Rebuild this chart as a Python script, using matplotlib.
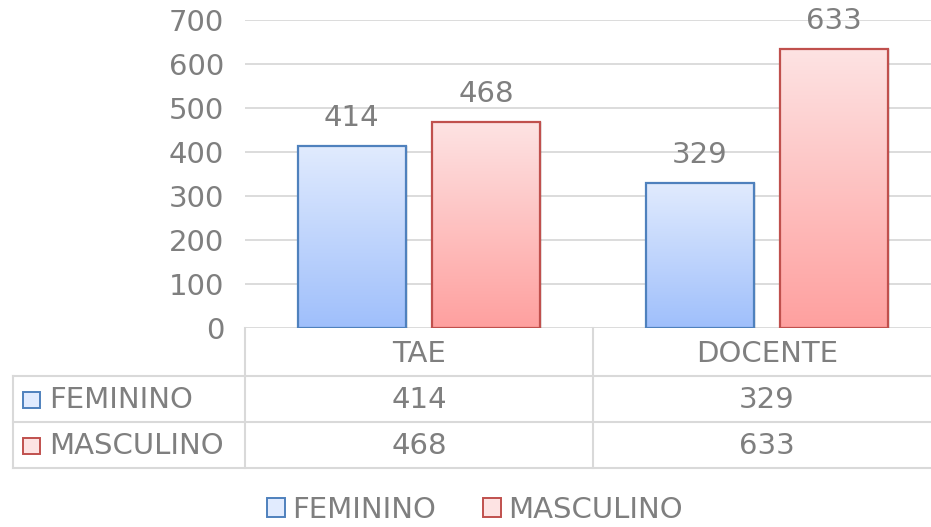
import numpy as np
import matplotlib.pyplot as plt
from matplotlib.colors import LinearSegmentedColormap
from matplotlib.patches import Rectangle
from matplotlib.lines import Line2D

categories = ['TAE', 'DOCENTE']
series = ['FEMININO', 'MASCULINO']
feminino = [414, 329]
masculino = [468, 633]
yticks = [0, 100, 200, 300, 400, 500, 600, 700]

W, H = 931, 527
txt = '#7f7f7f'
grid = '#d9d9d9'
fsize = 21
styles = {
    'FEMININO': dict(top='#e1ebfe', bot='#9fbffb', edge='#4f81bd'),
    'MASCULINO': dict(top='#fde3e3', bot='#ffa09f', edge='#c0504d'),
}

plt.rcParams['font.family'] = ['DejaVu Sans']
fig = plt.figure(figsize=(W / 100, H / 100), dpi=100)


def fx(px):
    return px / W


def fy(py):
    return 1 - py / H


ax = fig.add_axes([fx(245), fy(328), fx(696), 308 / H])
ax.set_xlim(-0.5, 1.5)
ax.set_ylim(0, 700)
ax.set_yticks(yticks)
ax.tick_params(axis='y', length=0, pad=15, labelsize=fsize, labelcolor=txt)
ax.set_xticks([])
for s in ax.spines.values():
    s.set_visible(False)
ax.yaxis.grid(True, color=grid, lw=1.3)
ax.set_axisbelow(True)

width = 0.31
offs = [-0.193, 0.193]
x = np.arange(len(categories))
grad = np.linspace(0, 1, 256).reshape(-1, 1)
for name, vals, off in zip(series, [feminino, masculino], offs):
    st = styles[name]
    cmap = LinearSegmentedColormap.from_list(name, [st['bot'], st['top']])
    for xi, v in zip(x, vals):
        x0 = xi + off - width / 2
        # faint shadow
        ax.add_patch(Rectangle((x0 + 0.006, 0), width, v, facecolor='#000000',
                               alpha=0.08, lw=0, zorder=2))
        ax.imshow(grad, extent=[x0, x0 + width, 0, v], origin='lower',
                  aspect='auto', cmap=cmap, zorder=3)
        ax.add_patch(Rectangle((x0, 0), width, v, facecolor='none',
                               edgecolor=st['edge'], lw=1.6, zorder=4))
        ax.annotate(str(v), (xi + off, v), xytext=(0, 14),
                    textcoords='offset pixels', ha='center', va='bottom',
                    fontsize=fsize, color=txt)
ax.set_xlim(-0.5, 1.5)
ax.set_ylim(0, 700)

# data table below the plot
lk = dict(color=grid, lw=1.5, transform=fig.transFigure)
for py in [376, 422, 468]:
    fig.add_artist(Line2D([fx(13), 1], [fy(py), fy(py)], **lk))
fig.add_artist(Line2D([fx(13), fx(13)], [fy(376), fy(468)], **lk))
for px in [245, 593]:
    fig.add_artist(Line2D([fx(px), fx(px)], [fy(328), fy(468)], **lk))

col_x = [fx(419), fx(767)]
for cx, c in zip(col_x, categories):
    fig.text(cx, fy(354), c, ha='center', va='center', fontsize=fsize, color=txt)
for ry, name, vals in zip([fy(400), fy(446)], series, [feminino, masculino]):
    st = styles[name]
    fig.add_artist(Rectangle((fx(23), ry - 8 / H), 17 / W, 16 / H,
                             facecolor=st['top'], edgecolor=st['edge'], lw=1.4,
                             transform=fig.transFigure))
    fig.text(fx(49), ry, name, ha='left', va='center', fontsize=fsize, color=txt)
    for cx, v in zip(col_x, vals):
        fig.text(cx, ry, str(v), ha='center', va='center', fontsize=fsize, color=txt)

# legend
handles = [Rectangle((0, 0), 1, 1, facecolor=styles[n]['top'],
                     edgecolor=styles[n]['edge'], lw=1.4) for n in series]
fig.legend(handles, series, loc='center', bbox_to_anchor=(fx(475), fy(510)),
           ncol=2, frameon=False, fontsize=fsize, labelcolor=txt,
           handlelength=0.62, handleheight=0.62, handletextpad=0.25,
           columnspacing=1.6)

fig.savefig('out.png', dpi=100)
